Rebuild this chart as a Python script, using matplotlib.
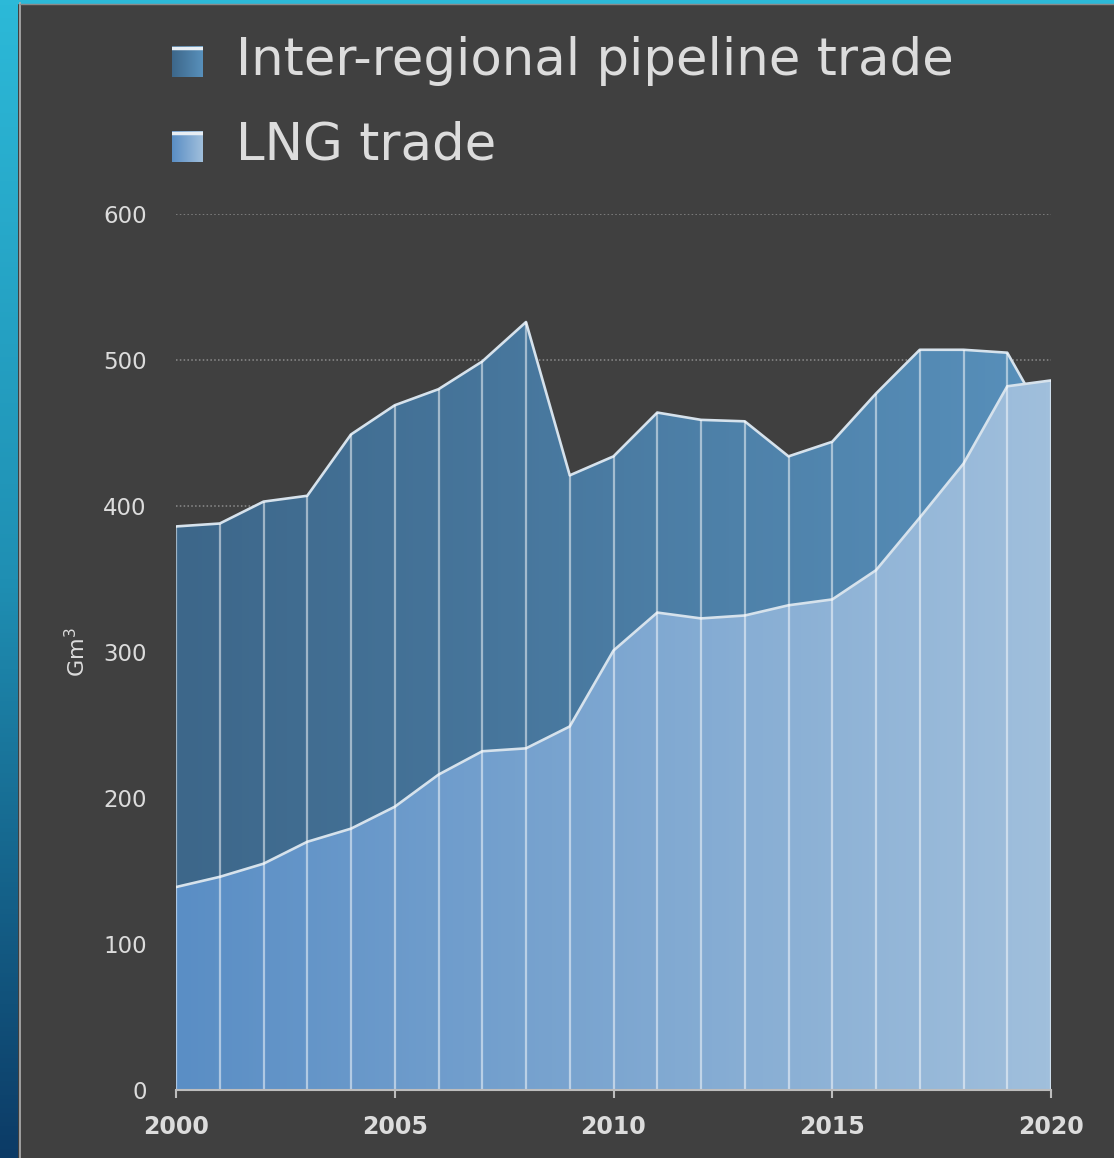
import numpy as np
import matplotlib.pyplot as plt
from matplotlib.colors import LinearSegmentedColormap
from matplotlib.patches import Rectangle

# data (Gm3)
years = np.arange(2000, 2021)
pipeline = [386, 388, 403, 407, 449, 469, 480, 499, 526, 421,
            434, 464, 459, 458, 434, 444, 477, 507, 507, 505, 452]
lng = [139, 146, 155, 170, 179, 194, 216, 232, 234, 249,
       301, 327, 323, 325, 332, 336, 356, 392, 429, 482, 486]
xticks = [2000, 2005, 2010, 2015, 2020]
yticks = [0, 100, 200, 300, 400, 500, 600]

BG = '#404040'
TXT = '#dcdcdc'

fig = plt.figure(figsize=(11.14, 11.58), dpi=100, facecolor=BG)

# slide border: gradient strip on the left, cyan strip on top
bar = fig.add_axes([0, 0, 18 / 1114, 1])
bar.imshow(np.linspace(0, 1, 256)[:, None], aspect='auto',
           cmap=LinearSegmentedColormap.from_list('b', ['#2cb9d8', '#1f8fb3', '#0c3b66']))
bar.axis('off')
fig.patches.append(Rectangle((0, 1 - 3 / 1158), 1, 3 / 1158, transform=fig.transFigure,
                             color='#2cb9d8', zorder=0))
fig.lines.append(plt.Line2D([19.5 / 1114] * 2, [0, 1 - 3 / 1158], transform=fig.transFigure,
                            color='#b0b0b0', lw=1.2))
fig.lines.append(plt.Line2D([19.5 / 1114, 1], [1 - 4 / 1158] * 2, transform=fig.transFigure,
                            color='#8a8a8a', lw=1))

ax = fig.add_axes([176 / 1114, 1 - 1090 / 1158, 875 / 1114, 876 / 1158])
ax.set_facecolor(BG)


def gradient_area(x, top, c0, c1, z):
    poly = ax.fill_between(x, 0, top, color='none', lw=0, zorder=z)
    cmap = LinearSegmentedColormap.from_list('g', [c0, c1])
    im = ax.imshow(np.linspace(0, 1, 256)[None, :], cmap=cmap, aspect='auto',
                   extent=[x[0], x[-1], 0, 600], zorder=z, interpolation='bilinear')
    im.set_clip_path(poly.get_paths()[0], transform=ax.transData)
    ax.plot(x, top, color='#d6e2ec', lw=1.9, zorder=z + 0.5, solid_joinstyle='round')


gradient_area(years, pipeline, '#3d678a', '#5890bb', 2)
gradient_area(years, lng, '#5a8ec5', '#a0bfdc', 3)

# white separators at every year
ax.vlines(years, 0, np.maximum(pipeline, lng), colors='white', alpha=0.5, lw=1.6, zorder=4)

for v in yticks[1:]:
    ax.axhline(v, color='#8c8c8c', lw=1.1, ls=(0, (1, 1.5)), zorder=1)

ax.set_xlim(2000, 2020)
ax.set_ylim(0, 600)
ax.set_xticks(xticks)
ax.set_yticks(yticks)
for s in ['top', 'right', 'left']:
    ax.spines[s].set_visible(False)
ax.spines['bottom'].set_color('#bdbdbd')
ax.spines['bottom'].set_linewidth(1.5)
ax.spines['bottom'].set_zorder(6)
ax.tick_params(axis='x', direction='out', length=6, width=1.5, color='#bdbdbd',
               labelcolor=TXT, labelsize=17, pad=12)
ax.tick_params(axis='y', length=0, labelcolor=TXT, labelsize=16.5, pad=21)
for lab in ax.get_xticklabels():
    lab.set_fontweight('bold')
ax.set_ylabel('Gm$^3$', color=TXT, fontsize=16, labelpad=10)

# legend drawn by hand, large text at the top
leg = [('Inter-regional pipeline trade', '#3d678a', '#5890bb', 61),
       ('LNG trade', '#5a8ec5', '#a0bfdc', 146)]
for label, c0, c1, yc in leg:
    sq = fig.add_axes([172 / 1114, 1 - (yc + 16) / 1158, 31 / 1114, 31 / 1158])
    sq.imshow(np.linspace(0, 1, 64)[None, :], aspect='auto',
              cmap=LinearSegmentedColormap.from_list('l', [c0, c1]))
    sq.axhline(-0.45, color='#e8eef4', lw=2.5)
    sq.axis('off')
    fig.text(236 / 1114, 1 - yc / 1158, label, color=TXT, fontsize=37,
             va='center', ha='left')

fig.savefig('out.png', dpi=100, facecolor=BG)
